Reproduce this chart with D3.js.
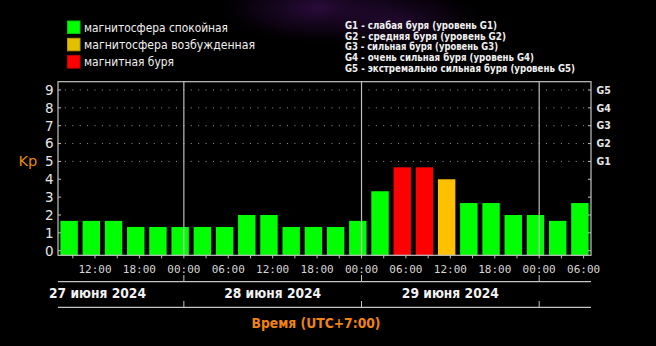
<!DOCTYPE html>
<html>
<head>
<meta charset="utf-8">
<script src="https://cdn.jsdelivr.net/npm/d3@7"></script>
<style>
  html, body { margin: 0; padding: 0; background: #000; }
  svg { display: block; }
</style>
</head>
<body>
<svg id="chart" width="656" height="346"></svg>
<script>
// Kp index, 3-hour intervals starting 27 June 2024 07:00 (UTC+7)
const startTime = new Date(2024, 5, 27, 7, 0);
const endTime = new Date(2024, 5, 30, 7, 0);
const kpValues = [1.67, 1.67, 1.67, 1.33, 1.33, 1.33, 1.33, 1.33,
                  2.00, 2.00, 1.33, 1.33, 1.33, 1.67, 3.33, 4.67,
                  4.67, 4.00, 2.67, 2.67, 2.00, 2.00, 1.67, 2.67];
const kpTicks = [0, 1, 2, 3, 4, 5, 6, 7, 8, 9];
const gLevels = [{kp: 5, label: "G1"}, {kp: 6, label: "G2"}, {kp: 7, label: "G3"},
                 {kp: 8, label: "G4"}, {kp: 9, label: "G5"}];
const statusLegend = [
  {label: "магнитосфера спокойная", color: "#00ff00", stroke: "#00c800"},
  {label: "магнитосфера возбужденная", color: "#e2c000", stroke: "#b89a00"},
  {label: "магнитная буря", color: "#ff0000", stroke: "#c80000"}
];
const stormLegend = [
  "G1 - слабая буря (уровень G1)",
  "G2 - средняя буря (уровень G2)",
  "G3 - сильная буря (уровень G3)",
  "G4 - очень сильная буря (уровень G4)",
  "G5 - экстремально сильная буря (уровень G5)"
];
const stormLegendWidths = [152, 161, 153, 189, 230];
const dayLabels = ["27 июня 2024", "28 июня 2024", "29 июня 2024"];
const xTitle = "Время (UTC+7:00)";

const BAR_GREEN = "#00ff00", BAR_ORANGE = "#ffc000", BAR_RED = "#ff0000";
function barColor(kp) {
  if (kp >= 4.5) return BAR_RED;
  if (kp >= 3.5) return BAR_ORANGE;
  return BAR_GREEN;
}

const svg = d3.select("#chart");
const W = 656, H = 346;
const plot = {left: 58, right: 591, top: 81.7, bottom: 255.3};

// background with a faint violet glow near the top
const defs = svg.append("defs");
const glow = defs.append("radialGradient").attr("id", "glow")
  .attr("cx", "50%").attr("cy", "50%").attr("r", "50%");
glow.append("stop").attr("offset", "0%").attr("stop-color", "#3a0f52").attr("stop-opacity", 0.75);
glow.append("stop").attr("offset", "60%").attr("stop-color", "#22082f").attr("stop-opacity", 0.4);
glow.append("stop").attr("offset", "100%").attr("stop-color", "#000").attr("stop-opacity", 0);
svg.append("rect").attr("width", W).attr("height", H).attr("fill", "#000");
svg.append("ellipse").attr("cx", 320).attr("cy", 8).attr("rx", 110).attr("ry", 38).attr("fill", "url(#glow)");
svg.append("ellipse").attr("cx", 400).attr("cy", 20).attr("rx", 90).attr("ry", 35).attr("fill", "url(#glow)").attr("opacity", 0.7);

// scales
const x = d3.scaleTime().domain([startTime, endTime]).range([plot.left, plot.right]);
const y = d3.scaleLinear().domain([0, 9]).range([250.7, 90]);
const slot = 3; // hours per bar
const barPad = 2.4;

// dotted grid rows at the G-levels
const dotTimes = d3.timeMinute.every(90).range(startTime, endTime).slice(1);
const gridG = svg.append("g");
gLevels.forEach(g => {
  gridG.selectAll(null).data(dotTimes).join("rect")
    .attr("x", d => x(d) - 0.5).attr("y", y(g.kp) - 0.5)
    .attr("width", 1).attr("height", 1).attr("fill", "#9a9a9a");
});

// bars
const barData = kpValues.map((v, i) => ({
  t0: d3.timeHour.offset(startTime, i * slot),
  t1: d3.timeHour.offset(startTime, (i + 1) * slot),
  kp: v
}));
svg.append("g").selectAll("rect").data(barData).join("rect")
  .attr("x", d => x(d.t0) + barPad)
  .attr("width", d => x(d.t1) - x(d.t0) - 2 * barPad)
  .attr("y", d => y(d.kp))
  .attr("height", d => plot.bottom - y(d.kp))
  .attr("fill", d => barColor(d.kp));

// day separators
const midnights = d3.timeDay.range(d3.timeHour.offset(startTime, 1), endTime);
const lineColor = "#c4c4c4";
svg.append("g").selectAll("line").data(midnights).join("line")
  .attr("x1", d => x(d)).attr("x2", d => x(d))
  .attr("y1", plot.top).attr("y2", plot.bottom)
  .attr("stroke", "#bdbdbd").attr("stroke-width", 1.2);

// frame
svg.append("rect")
  .attr("x", plot.left).attr("y", plot.top)
  .attr("width", plot.right - plot.left).attr("height", plot.bottom - plot.top)
  .attr("fill", "none").attr("stroke", lineColor).attr("stroke-width", 1.2);

// left axis
const leftAxis = svg.append("g");
leftAxis.selectAll("line").data(kpTicks).join("line")
  .attr("x1", plot.left).attr("x2", plot.left + 3)
  .attr("y1", d => y(d)).attr("y2", d => y(d))
  .attr("stroke", lineColor);
leftAxis.selectAll("text").data(kpTicks).join("text")
  .attr("x", 53.5).attr("y", d => y(d)).attr("dy", "0.36em")
  .attr("text-anchor", "end")
  .attr("font-family", "DejaVu Sans").attr("font-size", 13.5)
  .attr("fill", "#e6e6e6").text(d => d);

// right axis with G levels
const rightAxis = svg.append("g");
rightAxis.selectAll("line").data(kpTicks).join("line")
  .attr("x1", plot.right - 3).attr("x2", plot.right)
  .attr("y1", d => y(d)).attr("y2", d => y(d))
  .attr("stroke", lineColor);
rightAxis.selectAll("text").data(gLevels).join("text")
  .attr("x", 596.5).attr("y", d => y(d.kp)).attr("dy", "0.36em")
  .attr("font-family", "DejaVu Sans Condensed").attr("font-weight", "bold")
  .attr("font-size", 10.5).attr("fill", "#e6e6e6").text(d => d.label);

// Kp axis title
svg.append("text").attr("x", 18.5).attr("y", 166)
  .attr("font-family", "DejaVu Sans").attr("font-size", 14.5)
  .attr("fill", "#e8890a").text("Kp");

// bottom time axis
const minorTicks = d3.timeHour.every(3).range(d3.timeHour.offset(startTime, 1), endTime);
svg.append("g").selectAll("line").data(minorTicks).join("line")
  .attr("x1", d => x(d)).attr("x2", d => x(d))
  .attr("y1", plot.bottom).attr("y2", plot.bottom + 3)
  .attr("stroke", lineColor);
const labelTicks = d3.timeHour.every(6).range(d3.timeHour.offset(startTime, 1), endTime);
const fmt = d3.timeFormat("%H:%M");
svg.append("g").selectAll("text").data(labelTicks).join("text")
  .attr("x", d => x(d)).attr("y", 269).attr("dy", "0.36em")
  .attr("text-anchor", "middle")
  .attr("font-family", "DejaVu Sans Mono").attr("font-size", 11)
  .attr("fill", "#d6d6d6").text(d => fmt(d));

// date rows
[{yLine: 281.7, tickTop: 275}, {yLine: 307.3, tickTop: 301}].forEach(r => {
  svg.append("line").attr("x1", plot.left).attr("x2", plot.right)
    .attr("y1", r.yLine).attr("y2", r.yLine)
    .attr("stroke", lineColor).attr("stroke-width", 1.2);
  svg.append("g").selectAll("line").data(midnights).join("line")
    .attr("x1", d => x(d)).attr("x2", d => x(d))
    .attr("y1", r.tickTop).attr("y2", r.yLine)
    .attr("stroke", lineColor);
});
const noons = d3.timeDay.range(d3.timeDay.floor(startTime), endTime)
  .map(d => d3.timeHour.offset(d, 12)).slice(0, dayLabels.length);
svg.append("g").selectAll("text").data(noons).join("text")
  .attr("x", (d, i) => x(d) + (i === 0 ? 2.5 : 0)).attr("y", 293.5).attr("dy", "0.36em")
  .attr("text-anchor", "middle")
  .attr("font-family", "DejaVu Sans Condensed").attr("font-weight", "bold")
  .attr("font-size", 13.5).attr("fill", "#f2f2f2")
  .attr("textLength", 97).attr("lengthAdjust", "spacingAndGlyphs")
  .text((d, i) => dayLabels[i]);

// x axis title
svg.append("text").attr("x", 316).attr("y", 322.7).attr("dy", "0.36em")
  .attr("text-anchor", "middle")
  .attr("font-family", "DejaVu Sans Condensed").attr("font-weight", "bold")
  .attr("font-size", 14.5).attr("fill", "#ef8410")
  .attr("textLength", 129).attr("lengthAdjust", "spacingAndGlyphs")
  .text(xTitle);

// status legend
const legendTextWidths = [144, 171, 90];
const leg = svg.append("g").selectAll("g").data(statusLegend).join("g")
  .attr("transform", (d, i) => `translate(67.5, ${21 + i * 17.3})`);
leg.append("rect").attr("width", 12.5).attr("height", 12.5)
  .attr("fill", d => d.color).attr("stroke", d => d.stroke).attr("stroke-width", 1);
leg.append("text").attr("x", 16.5).attr("y", 6.2).attr("dy", "0.36em")
  .attr("font-family", "DejaVu Sans").attr("font-size", 12)
  .attr("fill", "#f0f0f0")
  .attr("textLength", (d, i) => legendTextWidths[i]).attr("lengthAdjust", "spacingAndGlyphs")
  .text(d => d.label);

// storm level legend
svg.append("g").selectAll("text").data(stormLegend).join("text")
  .attr("x", 345).attr("y", (d, i) => 25 + i * 10.8).attr("dy", "0.36em")
  .attr("font-family", "DejaVu Sans Condensed").attr("font-weight", "bold")
  .attr("font-size", 10.5).attr("fill", "#f0f0f0")
  .attr("textLength", (d, i) => stormLegendWidths[i]).attr("lengthAdjust", "spacingAndGlyphs")
  .text(d => d);
</script>
</body>
</html>
